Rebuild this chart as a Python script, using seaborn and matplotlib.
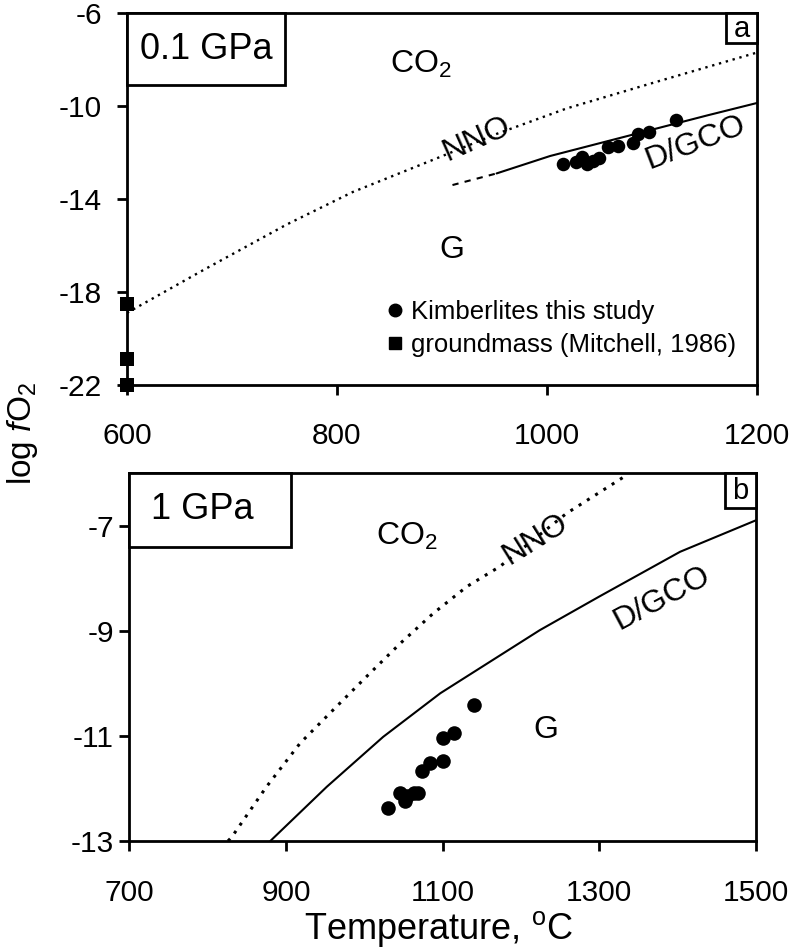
import numpy as np
import pandas as pd
import matplotlib
matplotlib.use("Agg")
import matplotlib.pyplot as plt
import seaborn as sns
from matplotlib.patches import Rectangle
from matplotlib.lines import Line2D

# ---------------- data: panel a (0.1 GPa) ----------------
a_kimb_T = [1015, 1028, 1033, 1038, 1044, 1050, 1058, 1068, 1082, 1087, 1097, 1123]
a_kimb_fo2 = [-12.5, -12.4, -12.2, -12.5, -12.35, -12.25, -11.75, -11.7, -11.6, -11.2, -11.1, -10.6]
a_gm_T = [600, 600, 600]
a_gm_fo2 = [-18.5, -20.9, -22.0]
a_nno_T = [600, 673, 752, 815, 895, 952, 1019, 1105, 1200]
a_nno_fo2 = [-18.9, -17.05, -15.1, -13.7, -12.25, -11.2, -10.1, -8.95, -7.7]
a_dgco_dash_T = [910, 952]
a_dgco_dash_fo2 = [-13.4, -12.9]
a_dgco_T = [952, 1003, 1153, 1200]
a_dgco_fo2 = [-12.9, -12.15, -10.4, -9.87]

# ---------------- data: panel b (1 GPa) ----------------
b_kimb_T = [1030, 1045, 1052, 1055, 1064, 1068, 1074, 1084, 1100, 1101, 1114, 1140]
b_kimb_fo2 = [-12.38, -12.08, -12.24, -12.14, -12.09, -12.08, -11.67, -11.51, -11.48, -11.04, -10.94, -10.42]
b_nno_T = [826, 831, 875, 918, 960, 1003, 1046, 1088, 1131, 1173, 1258, 1335]
b_nno_fo2 = [-13.0, -12.92, -11.97, -11.14, -10.51, -9.87, -9.24, -8.67, -8.16, -7.78, -6.77, -6.04]
b_dgco_T = [880, 952, 1024, 1097, 1224, 1300, 1403, 1500]
b_dgco_fo2 = [-13.0, -11.97, -11.02, -10.19, -8.99, -8.35, -7.5, -6.9]

a_xticks = [600, 800, 1000, 1200]
a_yticks = [-22, -18, -14, -10, -6]
b_xticks = [700, 900, 1100, 1300, 1500]
b_yticks = [-13, -11, -9, -7]

sns.set_theme(style="ticks")
plt.rcParams['font.family'] = ['Liberation Sans', 'DejaVu Sans']
plt.rcParams['mathtext.fontset'] = 'custom'
plt.rcParams['mathtext.rm'] = 'Liberation Sans'
plt.rcParams['mathtext.it'] = 'Liberation Sans:italic'
plt.rcParams['mathtext.bf'] = 'Liberation Sans:bold'
plt.rcParams['text.color'] = 'black'
plt.rcParams['axes.labelcolor'] = 'black'
plt.rcParams['xtick.color'] = 'black'
plt.rcParams['ytick.color'] = 'black'

fig = plt.figure(figsize=(7.93, 9.51), dpi=100)
ax1 = fig.add_axes([0.1601, 0.5952, 0.7945, 0.3911])
ax2 = fig.add_axes([0.1631, 0.1157, 0.7903, 0.3870])

K = "black"
TICK_FS = 21.5
ANN_FS = 23


def style_axes(ax, xlim, ylim, xt, yt, xpad, ypad):
    ax.set_xlim(*xlim)
    ax.set_ylim(*ylim)
    ax.set_xticks(xt)
    ax.set_yticks(yt)
    ax.set_xticklabels([str(v) for v in xt])
    ax.set_yticklabels([str(v) for v in yt])
    for s in ax.spines.values():
        s.set_visible(True)
        s.set_linewidth(2.0)
        s.set_color(K)
    ax.tick_params(axis='both', direction='out', length=7, width=2, colors=K,
                   labelsize=TICK_FS, labelcolor=K)
    ax.tick_params(axis='x', pad=xpad)
    ax.tick_params(axis='y', pad=ypad)
    ax.set_xlabel("")
    ax.set_ylabel("")
    ax.set_facecolor("white")


# ---------------- panel a ----------------
sns.lineplot(x=a_nno_T, y=a_nno_fo2, ax=ax1, color=K, lw=1.7, sort=False,
             linestyle=(0, (1, 2)), estimator=None)
sns.lineplot(x=a_dgco_dash_T, y=a_dgco_dash_fo2, ax=ax1, color=K, lw=1.5,
             sort=False, linestyle=(0, (3, 3)), estimator=None)
sns.lineplot(x=a_dgco_T, y=a_dgco_fo2, ax=ax1, color=K, lw=1.5, sort=False,
             estimator=None)
sns.scatterplot(x=a_kimb_T, y=a_kimb_fo2, ax=ax1, color=K, marker='o', s=95,
                edgecolor=K, linewidth=0, zorder=5)
sns.scatterplot(x=a_gm_T, y=a_gm_fo2, ax=ax1, color=K, marker='s', s=90,
                edgecolor=K, linewidth=0, zorder=6)
for coll in ax1.collections:
    coll.set_clip_on(False)

style_axes(ax1, (600, 1200), (-22, -6), a_xticks, a_yticks, xpad=20, ypad=11)

ax1.text(880, -8.2, "CO$_2$", fontsize=ANN_FS, ha='center', va='center')
ax1.text(909, -16.2, "G", fontsize=ANN_FS, ha='center', va='center')
ax1.text(933, -11.45, "NNO", fontsize=ANN_FS, ha='center', va='center',
         rotation=24, rotation_mode='anchor')
ax1.text(1141, -11.6, "D/GCO", fontsize=ANN_FS, ha='center', va='center',
         rotation=21, rotation_mode='anchor')

handles = [
    Line2D([], [], marker='o', color=K, linestyle='none', markersize=9),
    Line2D([], [], marker='s', color=K, linestyle='none', markersize=8.5),
]
ax1.legend(handles, ["Kimberlites this study", "groundmass (Mitchell, 1986)"],
           loc='upper left', bbox_to_anchor=(0.416, 0.229), frameon=False,
           fontsize=18.5, handlelength=0.5, handletextpad=0.35,
           borderpad=0, borderaxespad=0, labelspacing=0.36)

# boxes panel a
ax1.add_patch(Rectangle((0, 0.806), 0.251, 0.194, transform=ax1.transAxes,
                        facecolor='white', edgecolor=K, lw=2, clip_on=False,
                        zorder=8))
ax1.text(0.1255, 0.903, "0.1 GPa", transform=ax1.transAxes, fontsize=26,
         ha='center', va='center', zorder=9)
ax1.add_patch(Rectangle((0.951, 0.919), 0.049, 0.081, transform=ax1.transAxes,
                        facecolor='white', edgecolor=K, lw=2, clip_on=False,
                        zorder=8))
ax1.text(0.9755, 0.957, "a", transform=ax1.transAxes, fontsize=21,
         ha='center', va='center', zorder=9)

# ---------------- panel b ----------------
sns.lineplot(x=b_nno_T, y=b_nno_fo2, ax=ax2, color=K, lw=2.2, sort=False,
             linestyle=(0, (1, 2.2)), estimator=None)
sns.lineplot(x=b_dgco_T, y=b_dgco_fo2, ax=ax2, color=K, lw=1.5, sort=False,
             estimator=None)
sns.scatterplot(x=b_kimb_T, y=b_kimb_fo2, ax=ax2, color=K, marker='o', s=110,
                edgecolor=K, linewidth=0, zorder=5)

style_axes(ax2, (700, 1500), (-13, -6), b_xticks, b_yticks, xpad=20.5, ypad=4)

ax2.text(1054, -7.21, "CO$_2$", fontsize=ANN_FS, ha='center', va='center')
ax2.text(1232, -10.88, "G", fontsize=ANN_FS, ha='center', va='center')
ax2.text(1218, -7.27, "NNO", fontsize=ANN_FS, ha='center', va='center',
         rotation=32, rotation_mode='anchor')
ax2.text(1380, -8.38, "D/GCO", fontsize=ANN_FS, ha='center', va='center',
         rotation=28, rotation_mode='anchor')

ax2.add_patch(Rectangle((0, 0.8), 0.2575, 0.2, transform=ax2.transAxes,
                        facecolor='white', edgecolor=K, lw=2, clip_on=False,
                        zorder=8))
ax2.text(0.116, 0.9, "1 GPa", transform=ax2.transAxes, fontsize=26,
         ha='center', va='center', zorder=9)
ax2.add_patch(Rectangle((0.9505, 0.904), 0.0495, 0.096, transform=ax2.transAxes,
                        facecolor='white', edgecolor=K, lw=2, clip_on=False,
                        zorder=8))
ax2.text(0.9755, 0.95, "b", transform=ax2.transAxes, fontsize=21,
         ha='center', va='center', zorder=9)

# shared labels
fig.text(0.029, 0.544, "log $\\it{f}$O$_2$", rotation=90, fontsize=24,
         ha='center', va='center')
fig.text(0.553, 0.023, "Temperature, $^{\\rm o}$C", fontsize=26,
         ha='center', va='center')

fig.savefig("out.png", dpi=100, facecolor='white')
